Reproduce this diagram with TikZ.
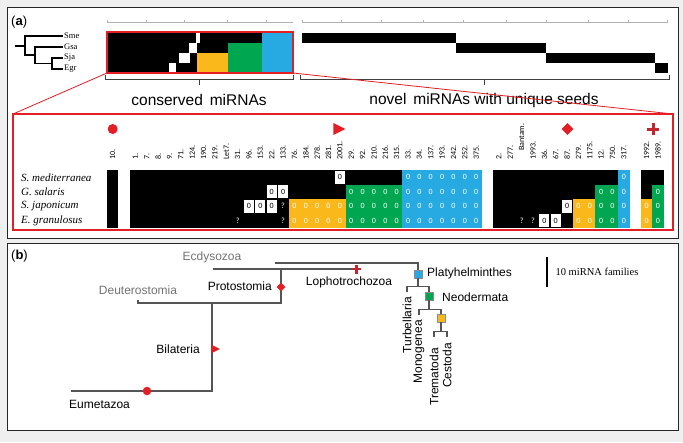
\documentclass[tikz,border=0pt]{standalone}
\usepackage{fontspec}
\setmainfont{Liberation Sans}
\newfontfamily\serifface{Liberation Serif}
\newfontfamily\tabface{Carlito}
\usetikzlibrary{shapes.geometric}

\definecolor{mired}{HTML}{E31E24}
\definecolor{mirdark}{HTML}{C1272D}
\definecolor{miyel}{HTML}{FBB81B}
\definecolor{migrn}{HTML}{00A650}
\definecolor{miblu}{HTML}{27AAE1}
\definecolor{pagegray}{HTML}{EFEFEF}
\definecolor{treegray}{HTML}{555555}

% column width and row height of the zoomed table
\newcommand\cw{11.36}
\newcommand\rh{14.5}

\newcommand\mcolblock[5]{\fill[#5] ({107+#1*\cw},{170+(#3-1)*\rh}) rectangle ({107+(#2+1)*\cw},{170+#4*\rh});}
\newcommand\mzeros[4]{\foreach \s in {#1,...,#2}{\foreach \r in {#3,...,#4}{%
  \node[zerotxt] (z\s-\r) at ({107+(\s+0.5)*\cw},{170+(\r-0.5)*\rh}) {0};}}}
\newcommand\mabsent[2]{\node[absentcell] (a#1-#2) at ({107+(#1+0.5)*\cw},{170+(#2-0.5)*\rh}) {0};}
\newcommand\munsure[2]{\node[zerotxt] (q#1-#2) at ({107+(#1+0.5)*\cw},{170+(#2-0.5)*\rh}) {?};}

\tikzset{
  panel/.style={draw=black!85, fill=white, line width=0.8pt},
  panellab/.style={anchor=west, font=\fontsize{13}{13}\selectfont, inner sep=0pt},
  sptaxon/.style={anchor=west, font=\serifface\fontsize{8.5}{8.5}\selectfont, inner sep=1pt},
  smalltree/.style={line width=1.4pt},
  zoombox/.style={draw=mired, line width=1.8pt},
  zoomline/.style={draw=mired, line width=0.8pt},
  ruler/.style={draw=black!30, line width=0.6pt},
  bracket/.style={draw=black!75, line width=0.9pt},
  grouplab/.style={font=\fontsize{15.5}{15.5}\selectfont},
  collab/.style={rotate=90, anchor=west, font=\tabface\fontsize{8}{8}\selectfont, inner sep=0pt},
  rowlab/.style={anchor=west, font=\serifface\itshape\fontsize{11}{11}\selectfont, inner sep=0pt},
  zerotxt/.style={text=white, font=\tabface\fontsize{8}{8}\selectfont, inner sep=0pt},
  absentcell/.style={fill=white, minimum width=10.2pt, minimum height=13.3pt, inner sep=0pt,
    font=\tabface\fontsize{8}{8}\selectfont},
  tree/.style={draw=treegray, line width=1.2pt},
  taxon/.style={font=\fontsize{12}{12}\selectfont, inner sep=1pt},
  outgroup/.style={taxon, text=black!55},
  sq/.style={draw=black!45, line width=0.4pt, minimum size=8pt, inner sep=0pt}
}

\begin{document}
\begin{tikzpicture}[x=1pt,y=-1pt]

\fill[pagegray] (0,0) rectangle (683,442);
\useasboundingbox (0,0) rectangle (683,442);
\draw[panel] (7,7) rectangle (678,238);
\draw[panel] (7,243) rectangle (678,430);

\node[panellab] (alab) at (11,22) {(\textbf{a})};
\node[panellab] (blab) at (11,256) {(\textbf{b})};

% species tree
\node[sptaxon] (sme) at (63,36) {Sme};
\node[sptaxon] (gsa) at (63,47) {Gsa};
\node[sptaxon] (sja) at (63,58) {Sja};
\node[sptaxon] (egr) at (63,69) {Egr};
\coordinate (r0) at (15,46);
\coordinate (r1) at (25,46);
\coordinate (r2) at (35,55);
\coordinate (r3) at (52,63.5);
\draw[smalltree] (r0) -- (r1) |- (sme.west);
\draw[smalltree] (r1) |- (r2) |- (gsa.west);
\draw[smalltree] (r2) |- (r3) |- (sja.west);
\draw[smalltree] (r3) |- (egr.west);

% rulers
\draw[ruler] (107,22.5) -- (293,22.5);
\foreach \x in {107,146,184,227,266} \draw[ruler] (\x,22.5) -- (\x,19.5);
\draw[ruler] (302,22.5) -- (667,22.5);
\foreach \x in {302,341,381,423,463,506,546,588,628,667} \draw[ruler] (\x,22.5) -- (\x,19.5);

% overview of conserved families
\fill (107,32.5) rectangle (293,72.5);
\fill[white] (196,32.5) rectangle (200,42.5);
\fill[white] (189,42.5) rectangle (196.5,52.5);
\fill[white] (179,52.5) rectangle (190,62.5);
\fill[white] (169,62.5) rectangle (176,72.5);
\fill[miyel] (197,52.5) rectangle (228,72.5);
\fill[migrn] (228,42.5) rectangle (262,72.5);
\fill[miblu] (262,32.5) rectangle (293,72.5);
\coordinate (ovsw) at (107,73);
\coordinate (ovse) at (293,73);

% novel families
\fill (302,32.5) rectangle (456,42.5);
\fill (456,42.5) rectangle (546,52.5);
\fill (546,52.5) rectangle (655,62.5);
\fill (655,62.5) rectangle (668,72.5);

% brackets
\draw[bracket] (105,75) -- (105,79) -- (293,79) -- (293,75);
\draw[bracket] (199,79) -- (199,85);
\draw[bracket] (300,75) -- (300,79) -- (669,79) -- (669,75);
\draw[bracket] (484,79) -- (484,85);
\node[grouplab] (conslab) at (199,100) {conserved\, miRNAs};
\node[grouplab] (novlab) at (484,100) {novel\, miRNAs with unique seeds};

% zoom
\coordinate (bignw) at (13,114);
\coordinate (bigne) at (673,114);
\draw[zoomline] (ovsw) -- (bignw);
\draw[zoomline] (ovse) -- (bigne);
\draw[zoombox] (107,32) rectangle (293,73);
\draw[zoombox] (bignw) rectangle (673,230);

% gain markers
\node[circle, fill=mired, minimum size=10pt, inner sep=0pt] (mcirc) at (112.7,129) {};
\node[isosceles triangle, isosceles triangle stretches, fill=mired, minimum width=12pt,
  minimum height=12pt, inner sep=0pt] (mtri) at (337,129) {};
\node[diamond, fill=mired, minimum width=12pt, minimum height=12pt, inner sep=0pt] (mdia) at (567.5,129) {};
\coordinate (mplus) at (653,129);
\draw[mirdark, line width=3pt] ([yshift=-6pt]mplus) -- ([yshift=6pt]mplus)
  ([xshift=-6pt]mplus) -- ([xshift=6pt]mplus);

% column labels
\node[collab] (col0) at ({107+0.5*\cw},160) {10.};
\foreach \lab [count=\i from 2] in {1.,7.,8.,9.,71.,124.,190.,219.,Let7.,31.,96.,153.,22.,133.,
  76.,184.,278.,281.,2001.,29.,92.,210.,216.,315.,33.,34.,137.,193.,242.,252.,375.}
  \node[collab] (col\i) at ({107+(\i+0.5)*\cw},160) {\lab};
\foreach \i/\lab in {34/2.,35/277.,37/1993.,38/36.,39/67.,40/87.,41/279.,42/1175.,43/12.,44/750.,45/317.,47/1992.,48/1989.}
  \node[collab] (col\i) at ({107+(\i+0.5)*\cw},160) {\lab};
\node[collab] (col36) at ({107+36.5*\cw},151) {Bantam.};

% row labels
\node[rowlab] (rsme) at (21,177.3) {S. mediterranea};
\node[rowlab] (rgsa) at (21,191.8) {G. salaris};
\node[rowlab] (rsja) at (21,206.3) {S. japonicum};
\node[rowlab] (regr) at (21,220.8) {E. granulosus};

% presence / absence matrix
\mcolblock{0}{0}{1}{4}{black}
\mcolblock{2}{32}{1}{4}{black}
\mcolblock{34}{45}{1}{4}{black}
\mcolblock{47}{48}{1}{4}{black}

\mcolblock{26}{32}{1}{4}{miblu}
\mcolblock{21}{25}{2}{4}{migrn}
\mcolblock{16}{20}{3}{4}{miyel}
\mcolblock{45}{45}{1}{4}{miblu}
\mcolblock{43}{44}{2}{4}{migrn}
\mcolblock{41}{42}{3}{4}{miyel}
\mcolblock{48}{48}{2}{4}{migrn}
\mcolblock{47}{47}{3}{4}{miyel}

\mzeros{26}{32}{1}{4}
\mzeros{21}{25}{2}{4}
\mzeros{16}{20}{3}{4}
\mzeros{45}{45}{1}{4}
\mzeros{43}{44}{2}{4}
\mzeros{41}{42}{3}{4}
\mzeros{48}{48}{2}{4}
\mzeros{47}{47}{3}{4}

\mabsent{20}{1}
\mabsent{14}{2}
\mabsent{15}{2}
\mabsent{12}{3}
\mabsent{13}{3}
\mabsent{14}{3}
\mabsent{40}{3}
\mabsent{38}{4}
\mabsent{39}{4}

\munsure{15}{3}
\munsure{11}{4}
\munsure{15}{4}
\munsure{36}{4}
\munsure{37}{4}

% (b) metazoan tree
\coordinate (eum) at (71,391);
\coordinate (bilb) at (212,391);
\coordinate (bil) at (212,303);
\coordinate (deut) at (138,303);
\coordinate (prot) at (281,303);
\coordinate (protup) at (281,269);
\coordinate (ecd) at (213,269);
\coordinate (loph) at (357,269);
\coordinate (lophup) at (275,263);
\node[sq, fill=miblu] (platy) at (418,274) {};
\node[sq, fill=migrn] (neod) at (429,296) {};
\node[sq, fill=miyel] (trcs) at (441,318) {};
\coordinate (turb) at (407,292);
\coordinate (mono) at (419,315);
\coordinate (trem) at (434,337);
\coordinate (cest) at (447,337);

\draw[tree] (eum) -- (bilb) -- (bil);
\draw[tree] ([yshift=3pt]deut) -- (deut) -- (prot) -- (protup);
\draw[tree] (ecd) -- (loph);
\draw[tree] (lophup) -| (platy.north);
\draw[tree] (platy.south) -- ++(0,8) coordinate (pj);
\draw[tree] (turb) |- (pj) -| (neod.north);
\draw[tree] (neod.south) -- ++(0,9) coordinate (nj);
\draw[tree] (mono) |- (nj) -| (trcs.north);
\draw[tree] (trcs.south) -- ++(0,9) coordinate (tj);
\draw[tree] (trem) |- (tj) -| (cest);

\node[circle, fill=mired, minimum size=8.5pt, inner sep=0pt] (bcirc) at (147,391) {};
\node[isosceles triangle, isosceles triangle stretches, fill=mired, minimum width=8.5pt,
  minimum height=8.5pt, inner sep=0pt] (btri) at (214,349) {};
\node[diamond, fill=mired, minimum width=9pt, minimum height=9pt, inner sep=0pt] (bdia) at (281,287) {};
\coordinate (bplus) at (356.5,269);
\draw[mirdark, line width=2.2pt] ([yshift=-4.5pt]bplus) -- ([yshift=4.5pt]bplus)
  ([xshift=-4.5pt]bplus) -- ([xshift=4.5pt]bplus);

\node[taxon, anchor=west] (leum) at (68,404) {Eumetazoa};
\node[taxon, anchor=east] (lbil) at (201,349) {Bilateria};
\node[outgroup] (ldeut) at (138,290) {Deuterostomia};
\node[taxon, anchor=east] (lprot) at (273,286) {Protostomia};
\node[outgroup] (lecd) at (212,257) {Ecdysozoa};
\node[taxon] (lloph) at (349,282) {Lophotrochozoa};
\node[taxon, anchor=west] (lplaty) at (426,273) {Platyhelminthes};
\node[taxon, anchor=west] (lneod) at (441,297) {Neodermata};
\node[taxon, rotate=90, anchor=east] (lturb) at ([yshift=-4pt]turb) {Turbellaria};
\node[taxon, rotate=90, anchor=east] (lmono) at ([yshift=-4pt]mono) {Monogenea};
\node[taxon, rotate=90, anchor=east] (ltrem) at ([yshift=-10pt]trem) {Trematoda};
\node[taxon, rotate=90, anchor=east] (lcest) at ([yshift=-5pt]cest) {Cestoda};

% scale bar
\coordinate (sbtop) at (547,257);
\coordinate (sbbot) at (547,287);
\draw[line width=2.5pt] (sbtop) -- (sbbot);
\node[anchor=west, font=\serifface\fontsize{10.5}{10.5}\selectfont] (sblab) at (552,272) {10 miRNA families};

\end{tikzpicture}
\end{document}
